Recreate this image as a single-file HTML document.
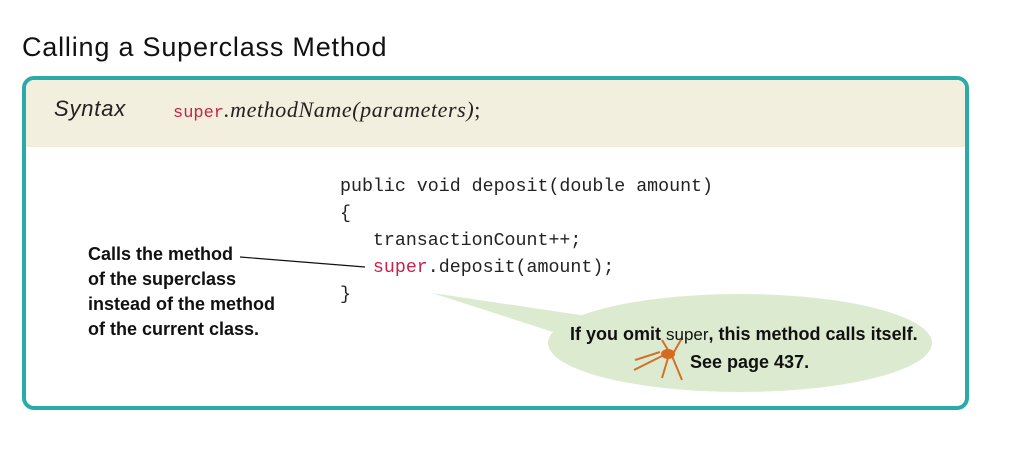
<!DOCTYPE html>
<html><head><style>
body{margin:0;width:1012px;height:465px;background:#fff;position:relative;overflow:hidden;font-family:"Liberation Sans",sans-serif}
.a{position:absolute;white-space:pre}
.mono{font-family:"Liberation Mono",monospace;font-size:18.3px;color:#222}
.red{color:#c8234a}
.hand{font-family:"Liberation Sans Narrow","Liberation Sans",sans-serif;font-weight:bold;font-size:18px;color:#111;line-height:25px}
</style></head><body>
<div class="a" style="left:22px;top:32px;font-size:27px;letter-spacing:0.8px;color:#111">Calling a Superclass Method</div>
<div class="a" style="left:22px;top:76px;width:939px;height:326px;border:4px solid #2aaaa9;border-radius:12px;overflow:hidden">
  <div style="position:absolute;left:0;top:0;right:0;height:67px;background:#f2efdf"></div>
</div>
<div class="a" style="left:54px;top:96px;font-style:italic;font-size:22px;letter-spacing:0.8px;color:#222">Syntax</div>
<div class="a" style="left:173px;top:97px;font-size:22px;color:#222"><span class="mono red" style="font-size:17px">super</span><span style="font-family:'Liberation Serif',serif;font-style:italic;letter-spacing:0.6px">.methodName(parameters)</span><span style="font-family:'Liberation Serif',serif">;</span></div>
<svg class="a" style="left:0;top:0" width="1012" height="465">
  <line x1="240" y1="257" x2="365" y2="267" stroke="#111" stroke-width="1.2"/>
  <path d="M432 293 L600 318 L640 360 Z" fill="#dcebcf"/>
  <ellipse cx="740" cy="343" rx="192" ry="49" fill="#dcebcf"/>
  <g stroke="#d2702a" stroke-width="2" fill="none">
    <path d="M660 352 l-25 8 M662 356 l-28 14 M668 358 l-6 20 M672 356 l10 24 M674 352 l8 -14 M668 350 l-6 -10"/>
  </g>
  <ellipse cx="668" cy="354" rx="7" ry="5" fill="#d66a20"/>
</svg>
<div class="a mono" style="left:340px;top:174px;line-height:27px">public void deposit(double amount)
{
   transactionCount++;
   <span class="red">super</span>.deposit(amount);
}</div>
<div class="a hand" style="left:88px;top:242px">Calls the method
of the superclass
instead of the method
of the current class.</div>
<div class="a hand" style="left:570px;top:322px">If you omit <span style="font-family:'Liberation Sans',sans-serif;font-weight:normal;font-size:17px">super</span>, this method calls itself.</div>
<div class="a hand" style="left:690px;top:350px">See page 437.</div>
</body></html>
